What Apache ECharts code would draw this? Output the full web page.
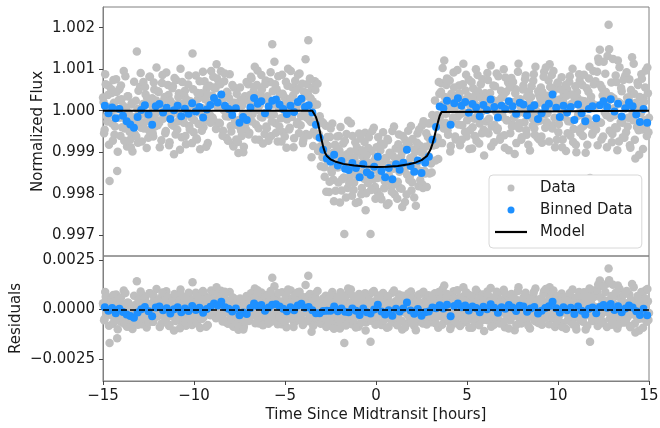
<!DOCTYPE html>
<html>
<head>
<meta charset="utf-8">
<script src="https://cdn.jsdelivr.net/npm/echarts@6/dist/echarts.min.js"></script>
<style>
  html, body { margin: 0; background: #fff; }
  #chart { width: 660px; height: 428px; }
</style>
</head>
<body>
<div id="chart"></div>
<script>
// unbinned light curve: time [hours], flux and residual as ppm offsets
// (two interleaved cadences: first block on the .00/.06 grid, second on .03/.09)
const dataTime = [
  -15, -14.94, -14.88, -14.82, -14.76, -14.7, -14.64, -14.58, -14.52, -14.46, -14.4, -14.34, -14.28, -14.22, -14.16, -14.1, -14.04, -13.98, -13.92, -13.86, -13.8, -13.74, -13.68, -13.62, -13.56,
  -13.5, -13.44, -13.38, -13.32, -13.26, -13.2, -13.14, -13.08, -13.02, -12.96, -12.9, -12.84, -12.78, -12.72, -12.66, -12.6, -12.54, -12.48, -12.42, -12.36, -12.3, -12.24, -12.18, -12.12, -12.06,
  -12, -11.94, -11.88, -11.82, -11.76, -11.7, -11.64, -11.58, -11.52, -11.46, -11.4, -11.34, -11.28, -11.22, -11.16, -11.1, -11.04, -10.98, -10.92, -10.86, -10.8, -10.74, -10.68, -10.62, -10.56,
  -10.5, -10.44, -10.38, -10.32, -10.26, -10.2, -10.14, -10.08, -10.02, -9.96, -9.9, -9.84, -9.78, -9.72, -9.66, -9.6, -9.54, -9.48, -9.42, -9.36, -9.3, -9.24, -9.18, -9.12, -9.06,
  -9, -8.94, -8.88, -8.82, -8.76, -8.7, -8.64, -8.58, -8.52, -8.46, -8.4, -8.34, -8.28, -8.22, -8.16, -8.1, -8.04, -7.98, -7.92, -7.86, -7.8, -7.74, -7.68, -7.62, -7.56,
  -7.5, -7.44, -7.38, -7.32, -7.26, -7.2, -7.14, -7.08, -7.02, -6.96, -6.9, -6.84, -6.78, -6.72, -6.66, -6.6, -6.54, -6.48, -6.42, -6.36, -6.3, -6.24, -6.18, -6.12, -6.06,
  -6, -5.94, -5.88, -5.82, -5.76, -5.7, -5.64, -5.58, -5.52, -5.46, -5.4, -5.34, -5.28, -5.22, -5.16, -5.1, -5.04, -4.98, -4.92, -4.86, -4.8, -4.74, -4.68, -4.62, -4.56,
  -4.5, -4.44, -4.38, -4.32, -4.26, -4.2, -4.14, -4.08, -4.02, -3.96, -3.9, -3.84, -3.78, -3.72, -3.66, -3.6, -3.54, -3.48, -3.42, -3.36, -3.3, -3.24, -3.18, -3.12, -3.06,
  -3, -2.94, -2.88, -2.82, -2.76, -2.7, -2.64, -2.58, -2.52, -2.46, -2.4, -2.34, -2.28, -2.22, -2.16, -2.1, -2.04, -1.98, -1.92, -1.86, -1.8, -1.74, -1.68, -1.62, -1.56,
  -1.5, -1.44, -1.38, -1.32, -1.26, -1.2, -1.14, -1.08, -1.02, -0.96, -0.9, -0.84, -0.78, -0.72, -0.66, -0.6, -0.54, -0.48, -0.42, -0.36, -0.3, -0.24, -0.18, -0.12, -0.06,
  0, 0.06, 0.12, 0.18, 0.24, 0.3, 0.36, 0.42, 0.48, 0.54, 0.6, 0.66, 0.72, 0.78, 0.84, 0.9, 0.96, 1.02, 1.08, 1.14, 1.2, 1.26, 1.32, 1.38, 1.44,
  1.5, 1.56, 1.62, 1.68, 1.74, 1.8, 1.86, 1.92, 1.98, 2.04, 2.1, 2.16, 2.22, 2.28, 2.34, 2.4, 2.46, 2.52, 2.58, 2.64, 2.7, 2.76, 2.82, 2.88, 2.94,
  3, 3.06, 3.12, 3.18, 3.24, 3.3, 3.36, 3.42, 3.48, 3.54, 3.6, 3.66, 3.72, 3.78, 3.84, 3.9, 3.96, 4.02, 4.08, 4.14, 4.2, 4.26, 4.32, 4.38, 4.44,
  4.5, 4.56, 4.62, 4.68, 4.74, 4.8, 4.86, 4.92, 4.98, 5.04, 5.1, 5.16, 5.22, 5.28, 5.34, 5.4, 5.46, 5.52, 5.58, 5.64, 5.7, 5.76, 5.82, 5.88, 5.94,
  6, 6.06, 6.12, 6.18, 6.24, 6.3, 6.36, 6.42, 6.48, 6.54, 6.6, 6.66, 6.72, 6.78, 6.84, 6.9, 6.96, 7.02, 7.08, 7.14, 7.2, 7.26, 7.32, 7.38, 7.44,
  7.5, 7.56, 7.62, 7.68, 7.74, 7.8, 7.86, 7.92, 7.98, 8.04, 8.1, 8.16, 8.22, 8.28, 8.34, 8.4, 8.46, 8.52, 8.58, 8.64, 8.7, 8.76, 8.82, 8.88, 8.94,
  9, 9.06, 9.12, 9.18, 9.24, 9.3, 9.36, 9.42, 9.48, 9.54, 9.6, 9.66, 9.72, 9.78, 9.84, 9.9, 9.96, 10.02, 10.08, 10.14, 10.2, 10.26, 10.32, 10.38, 10.44,
  10.5, 10.56, 10.62, 10.68, 10.74, 10.8, 10.86, 10.92, 10.98, 11.04, 11.1, 11.16, 11.22, 11.28, 11.34, 11.4, 11.46, 11.52, 11.58, 11.64, 11.7, 11.76, 11.82, 11.88, 11.94,
  12, 12.06, 12.12, 12.18, 12.24, 12.3, 12.36, 12.42, 12.48, 12.54, 12.6, 12.66, 12.72, 12.78, 12.84, 12.9, 12.96, 13.02, 13.08, 13.14, 13.2, 13.26, 13.32, 13.38, 13.44,
  13.5, 13.56, 13.62, 13.68, 13.74, 13.8, 13.86, 13.92, 13.98, 14.04, 14.1, 14.16, 14.22, 14.28, 14.34, 14.4, 14.46, 14.52, 14.58, 14.64, 14.7, 14.76, 14.82, 14.88, 14.94,
  15,
  -14.97, -14.91, -14.85, -14.79, -14.73, -14.67, -14.61, -14.55, -14.49, -14.43, -14.37, -14.31, -14.25, -14.19, -14.13, -14.07, -14.01, -13.95, -13.89, -13.83, -13.77, -13.71, -13.65, -13.59, -13.53,
  -13.47, -13.41, -13.35, -13.29, -13.23, -13.17, -13.11, -13.05, -12.99, -12.93, -12.87, -12.81, -12.75, -12.69, -12.63, -12.57, -12.51, -12.45, -12.39, -12.33, -12.27, -12.21, -12.15, -12.09, -12.03,
  -11.97, -11.91, -11.85, -11.79, -11.73, -11.67, -11.61, -11.55, -11.49, -11.43, -11.37, -11.31, -11.25, -11.19, -11.13, -11.07, -11.01, -10.95, -10.89, -10.83, -10.77, -10.71, -10.65, -10.59, -10.53,
  -10.47, -10.41, -10.35, -10.29, -10.23, -10.17, -10.11, -10.05, -9.99, -9.93, -9.87, -9.81, -9.75, -9.69, -9.63, -9.57, -9.51, -9.45, -9.39, -9.33, -9.27, -9.21, -9.15, -9.09, -9.03,
  -8.97, -8.91, -8.85, -8.79, -8.73, -8.67, -8.61, -8.55, -8.49, -8.43, -8.37, -8.31, -8.25, -8.19, -8.13, -8.07, -8.01, -7.95, -7.89, -7.83, -7.77, -7.71, -7.65, -7.59, -7.53,
  -7.47, -7.41, -7.35, -7.29, -7.23, -7.17, -7.11, -7.05, -6.99, -6.93, -6.87, -6.81, -6.75, -6.69, -6.63, -6.57, -6.51, -6.45, -6.39, -6.33, -6.27, -6.21, -6.15, -6.09, -6.03,
  -5.97, -5.91, -5.85, -5.79, -5.73, -5.67, -5.61, -5.55, -5.49, -5.43, -5.37, -5.31, -5.25, -5.19, -5.13, -5.07, -5.01, -4.95, -4.89, -4.83, -4.77, -4.71, -4.65, -4.59, -4.53,
  -4.47, -4.41, -4.35, -4.29, -4.23, -4.17, -4.11, -4.05, -3.99, -3.93, -3.87, -3.81, -3.75, -3.69, -3.63, -3.57, -3.51, -3.45, -3.39, -3.33, -3.27, -3.21, -3.15, -3.09, -3.03,
  -2.97, -2.91, -2.85, -2.79, -2.73, -2.67, -2.61, -2.55, -2.49, -2.43, -2.37, -2.31, -2.25, -2.19, -2.13, -2.07, -2.01, -1.95, -1.89, -1.83, -1.77, -1.71, -1.65, -1.59, -1.53,
  -1.47, -1.41, -1.35, -1.29, -1.23, -1.17, -1.11, -1.05, -0.99, -0.93, -0.87, -0.81, -0.75, -0.69, -0.63, -0.57, -0.51, -0.45, -0.39, -0.33, -0.27, -0.21, -0.15, -0.09, -0.03,
  0.03, 0.09, 0.15, 0.21, 0.27, 0.33, 0.39, 0.45, 0.51, 0.57, 0.63, 0.69, 0.75, 0.81, 0.87, 0.93, 0.99, 1.05, 1.11, 1.17, 1.23, 1.29, 1.35, 1.41, 1.47,
  1.53, 1.59, 1.65, 1.71, 1.77, 1.83, 1.89, 1.95, 2.01, 2.07, 2.13, 2.19, 2.25, 2.31, 2.37, 2.43, 2.49, 2.55, 2.61, 2.67, 2.73, 2.79, 2.85, 2.91, 2.97,
  3.03, 3.09, 3.15, 3.21, 3.27, 3.33, 3.39, 3.45, 3.51, 3.57, 3.63, 3.69, 3.75, 3.81, 3.87, 3.93, 3.99, 4.05, 4.11, 4.17, 4.23, 4.29, 4.35, 4.41, 4.47,
  4.53, 4.59, 4.65, 4.71, 4.77, 4.83, 4.89, 4.95, 5.01, 5.07, 5.13, 5.19, 5.25, 5.31, 5.37, 5.43, 5.49, 5.55, 5.61, 5.67, 5.73, 5.79, 5.85, 5.91, 5.97,
  6.03, 6.09, 6.15, 6.21, 6.27, 6.33, 6.39, 6.45, 6.51, 6.57, 6.63, 6.69, 6.75, 6.81, 6.87, 6.93, 6.99, 7.05, 7.11, 7.17, 7.23, 7.29, 7.35, 7.41, 7.47,
  7.53, 7.59, 7.65, 7.71, 7.77, 7.83, 7.89, 7.95, 8.01, 8.07, 8.13, 8.19, 8.25, 8.31, 8.37, 8.43, 8.49, 8.55, 8.61, 8.67, 8.73, 8.79, 8.85, 8.91, 8.97,
  9.03, 9.09, 9.15, 9.21, 9.27, 9.33, 9.39, 9.45, 9.51, 9.57, 9.63, 9.69, 9.75, 9.81, 9.87, 9.93, 9.99, 10.05, 10.11, 10.17, 10.23, 10.29, 10.35, 10.41, 10.47,
  10.53, 10.59, 10.65, 10.71, 10.77, 10.83, 10.89, 10.95, 11.01, 11.07, 11.13, 11.19, 11.25, 11.31, 11.37, 11.43, 11.49, 11.55, 11.61, 11.67, 11.73, 11.79, 11.85, 11.91, 11.97,
  12.03, 12.09, 12.15, 12.21, 12.27, 12.33, 12.39, 12.45, 12.51, 12.57, 12.63, 12.69, 12.75, 12.81, 12.87, 12.93, 12.99, 13.05, 13.11, 13.17, 13.23, 13.29, 13.35, 13.41, 13.47,
  13.53, 13.59, 13.65, 13.71, 13.77, 13.83, 13.89, 13.95, 14.01, 14.07, 14.13, 14.19, 14.25, 14.31, 14.37, 14.43, 14.49, 14.55, 14.61, 14.67, 14.73, 14.79, 14.85, 14.91, 14.97
]

const dataFluxPpm = [
  320, -540, 880, 110, -260, 610, -1690, -90, 430, -720, 190, -380, 760, -1450, 40, 520, -610, 280, -150, 960, -430, 70, -860, 350, -240,
  -690, 150, -980, -320, -560, 240, 1430, -770, -130, 580, -410, 20, 690, -280, 390, -900, 160, -470, 820, -60, 300, -620, 510, -200, 1040,
  -350, 450, -880, 130, 670, -190, 260, -540, 920, -20, 380, -760, 210, -330, 590, -1050, 80, 740, -460, 330, -120, 1010, -640, 170, -290,
  480, -810, 40, 630, -370, 230, -170, 1380, -520, 110, 850, -690, 290, -40, -930, 420, 60, -400, 710, -230, 540, -780, 180, -110, 960,
  370, 820, -260, 540, 1120, 90, 660, -310, 950, 240, -480, 710, 30, -650, 420, -140, 880, -370, 150, -820, 560, -240, -690, 100, -1020,
  -380, 270, -610, -90, -870, 350, -450, -200, 640, -530, 190, 780, -80, 470, 1060, -330, 620, 20, -700, 380, 860, -160, 290, -560, 730,
  -420, 260, -90, 690, -610, 1600, 150, 1180, -300, 520, -740, 80, 410, -180, 870, -520, 330, -30, -890, 600, 200, -410, 960, -150, 370,
  -660, 720, 50, -280, 540, 900, -350, 170, -780, 460, 10, -560, 640, 1700, -220, 310, -1120, 230, -500, 710, -240, 150, -970, -310, -860,
  -260, -1120, -750, -1590, -360, -1180, -850, -1960, -630, -1420, -310, -1660, -1150, -1930, -890, -1370, -610, -2210, -1060, -1650, -790, -2970, -1310, -560, -1860,
  -1120, -1590, -300, -2050, -1230, -1730, -760, -1500, -1010, -2200, -1290, -670, -1860, -1110, -1640, -530, -1990, -1240, -900, -1580, -2970, -970, -1420, -410, -1830,
  -1100, -1940, -640, -1490, -960, -2130, -1290, -820, -1700, -1170, -2270, -710, -1560, -1040, -1820, -490, -1400, -2010, -910, -1220, -1710, -570, -1860, -1090, -2320,
  -970, -1430, -710, -2020, -1270, -810, -1580, -370, -1720, -1110, -2090, -980, -1290, -550, -1820, -840, -1450, -360, -1860, -1050, -1510, -540, -1230, -310, -1510,
  -750, -1490, -300, -750, 250, -820, -110, -1160, 410, -280, 660, 1030, -430, 330, -70, 780, -580, 140, -980, 410, -260, 920, 50, -690, 360,
  -140, 610, -830, 270, -350, 1130, -40, 490, -620, 200, 750, -470, 30, -910, 540, -190, 380, -720, 860, 110, -310, 640, -540, 250, -1080,
  420, -260, 910, -550, 130, 1090, -380, 260, -760, 590, -20, -470, 830, 170, -640, 320, -150, 1000, -890, 450, -230, 680, 60, -540, 790,
  -330, 210, -1040, 520, -90, 940, -420, 280, -700, 150, 610, -280, 850, -580, 40, 470, -960, 330, -180, 720, -430, 1060, -10, -650, 390,
  -240, 560, -770, 180, 940, -410, 300, -60, 730, 1120, 220, 860, -350, 490, -880, 100, 640, -520, 270, -160, 810, -690, 380, -30, -970,
  520, -250, 700, -600, 160, 1010, -440, 290, -820, 450, -120, 880, -530, 70, 620, -370, 230, -1010, 540, -190, 780, -1620, 340, -570, 960,
  -360, 710, 120, -830, 1180, 1470, -290, 540, -620, 270, 890, -110, 1320, 2070, -480, 350, -760, 1250, 60, -400, 690, -950, 210, 1050, -270,
  470, -640, 140, 830, -520, 320, -170, 760, -890, 410, -60, 1130, -700, 190, -390, 620, -1060, 80, 880, -450, 300, -230, 970, -610, 420,
  -170,
  210, -460, 640, -130, 380, -820, 90, 520, -310, 740, -580, 30, 450, -990, 260, -170, 610, -400, 120, -720, 830, -240, 350, -60, -510,
  -880, 190, -330, 700, -150, -620, 40, 480, -270, 910, -740, 160, -430, 570, -90, 300, -650, 820, -200, 130, -540, 680, -380, 250, -30,
  470, -290, 60, -710, 860, -140, 330, -490, 10, 620, -830, 240, -100, 540, -360, 790, -570, 150, -260, 420, -940, 80, 690, -180, 360,
  -610, 270, -40, 850, -450, 190, -780, 520, -220, 100, -660, 430, -320, 710, 50, -480, 940, -150, 280, -870, 390, -60, 600, -290, 180,
  -170, 560, 230, -440, 780, 110, -290, 640, 380, -600, 20, 900, -130, 460, -720, 300, 70, -500, 620, -860, 190, -340, 410, -750, -220,
  560, -480, 130, -1000, 250, -310, 690, -100, -570, 380, 820, -260, 40, 580, -690, 210, 970, -420, 130, -150, 510, -790, 300, 640, -380,
  350, -720, 180, 930, -260, 470, -90, 640, -530, 220, 830, -380, 60, -740, 410, 150, -620, 700, -210, 1010, -450, 290, -60, 560, -880,
  120, 480, -320, 870, -540, 260, -130, 650, -700, 340, 1240, -160, 420, -590, 780, -270, 550, -850, 140, 500, -600, 650, -560, -130, -1340,
  -890, -290, -1360, -790, -1950, -630, -1040, -1710, -430, -1490, -1020, -2180, -820, -1290, -620, -1730, -960, -390, -1920, -1160, -1610, -730, -2090, -1050, -240,
  -1740, -980, -1430, -610, -1910, -1140, -2220, -880, -1590, -550, -1300, -2010, -950, -1480, -750, -2400, -1070, -1740, -640, -1370, -1910, -490, -1650, -1200, -2120,
  -880, -1620, -1230, -2040, -790, -1390, -520, -1870, -1140, -1700, -680, -2230, -1010, -1300, -1950, -1090, -380, -1770, -1160, -2120, -810, -1470, -940, -1880, -610,
  -1250, -2200, -870, -1540, -480, -1670, -1140, -1920, -680, -1350, -930, -2290, -770, -1430, -450, -1670, -1000, -1780, -250, -1450, -870, -1840, -630, -1100, -300,
  -1270, -100, -840, -180, -1200, -130, -650, 690, -150, 460, -780, 150, 1210, -290, 620, -470, 80, 730, -850, 310, -160, 560, -620, 190, 980,
  -330, 420, -80, -700, 640, 260, -510, 870, -230, 350, -920, 110, 690, -400, 230, -610, 1000, -140, 470, -790, 320, -30, 760, -460, 190,
  -510, 280, 740, -190, 430, -860, 60, 610, -340, 170, 900, -420, 250, -700, 480, -90, 330, -590, 800, -230, 120, -950, 560, 30, -380,
  690, -160, 420, -780, 260, 1130, -300, 90, -640, 510, -50, 760, -470, 350, -820, 200, -120, 590, -360, 880, -580, 140, -260, 470, -690,
  300, -620, 450, 820, -90, 1040, -280, 360, -740, 570, 120, -430, 960, -170, 250, -700, 680, -320, 40, 510, -880, 210, -150, 620, 360,
  -540, 90, 830, -260, 390, -750, 170, 590, -1000, 310, -60, 720, -430, 240, -610, 870, -200, 130, -820, 460, 1060, -340, 200, -530, 640,
  130, -450, 940, 1260, -280, 620, -690, 370, 1180, -40, 450, -880, 230, 1480, -170, 680, -560, 300, -110, 850, -420, 1210, -740, 180, 550,
  -290, 740, -650, 60, 930, -380, 260, -830, 500, 1290, -230, 410, -1150, 120, 680, -470, 330, -60, 770, -920, 210, 560, -340, 1040, -520
]

const dataResidualPpm = [
  320, -540, 880, 110, -260, 610, -1690, -90, 430, -720, 190, -380, 760, -1450, 40, 520, -610, 280, -150, 960, -430, 70, -860, 350, -240,
  -690, 150, -980, -320, -560, 240, 1430, -770, -130, 580, -410, 20, 690, -280, 390, -900, 160, -470, 820, -60, 300, -620, 510, -200, 1040,
  -350, 450, -880, 130, 670, -190, 260, -540, 920, -20, 380, -760, 210, -330, 590, -1050, 80, 740, -460, 330, -120, 1010, -640, 170, -290,
  480, -810, 40, 630, -370, 230, -170, 1380, -520, 110, 850, -690, 290, -40, -930, 420, 60, -400, 710, -230, 540, -780, 180, -110, 960,
  370, 820, -260, 540, 1120, 90, 660, -310, 950, 240, -480, 710, 30, -650, 420, -140, 880, -370, 150, -820, 560, -240, -690, 100, -1020,
  -380, 270, -610, -90, -870, 350, -450, -200, 640, -530, 190, 780, -80, 470, 1060, -330, 620, 20, -700, 380, 860, -160, 290, -560, 730,
  -420, 260, -90, 690, -610, 1600, 150, 1180, -300, 520, -740, 80, 410, -180, 870, -520, 330, -30, -890, 600, 200, -410, 960, -150, 370,
  -660, 720, 50, -280, 540, 900, -350, 170, -780, 460, 10, -560, 640, 1700, -220, 310, -1120, 240, -470, 790, -90, 380, -640, 120, -310,
  420, -330, 150, -610, 700, -90, 260, -820, 530, -240, 880, -460, 60, -700, 350, -130, 640, -950, 210, -380, 490, -1690, -20, 730, -560,
  180, -290, 1010, -740, 90, -410, 560, -180, 320, -870, 40, 670, -520, 230, -300, 820, -640, 110, 450, -230, -1620, 380, -70, 940, -480,
  260, -590, 710, -140, 390, -780, 60, 530, -350, 180, -920, 640, -210, 300, -480, 850, -60, -670, 420, 110, -380, 760, -540, 230, -1010,
  340, -120, 590, -720, 20, 480, -300, 910, -450, 150, -830, 270, -50, 680, -600, 370, -250, 820, -700, 90, -390, 560, -160, 720, -530,
  180, -640, 470, -80, 820, -360, 240, -910, 560, -200, 690, 1040, -430, 330, -70, 780, -580, 140, -980, 410, -260, 920, 50, -690, 360,
  -140, 610, -830, 270, -350, 1130, -40, 490, -620, 200, 750, -470, 30, -910, 540, -190, 380, -720, 860, 110, -310, 640, -540, 250, -1080,
  420, -260, 910, -550, 130, 1090, -380, 260, -760, 590, -20, -470, 830, 170, -640, 320, -150, 1000, -890, 450, -230, 680, 60, -540, 790,
  -330, 210, -1040, 520, -90, 940, -420, 280, -700, 150, 610, -280, 850, -580, 40, 470, -960, 330, -180, 720, -430, 1060, -10, -650, 390,
  -240, 560, -770, 180, 940, -410, 300, -60, 730, 1120, 220, 860, -350, 490, -880, 100, 640, -520, 270, -160, 810, -690, 380, -30, -970,
  520, -250, 700, -600, 160, 1010, -440, 290, -820, 450, -120, 880, -530, 70, 620, -370, 230, -1010, 540, -190, 780, -1620, 340, -570, 960,
  -360, 710, 120, -830, 1180, 1470, -290, 540, -620, 270, 890, -110, 1320, 2070, -480, 350, -760, 1250, 60, -400, 690, -950, 210, 1050, -270,
  470, -640, 140, 830, -520, 320, -170, 760, -890, 410, -60, 1130, -700, 190, -390, 620, -1060, 80, 880, -450, 300, -230, 970, -610, 420,
  -170,
  210, -460, 640, -130, 380, -820, 90, 520, -310, 740, -580, 30, 450, -990, 260, -170, 610, -400, 120, -720, 830, -240, 350, -60, -510,
  -880, 190, -330, 700, -150, -620, 40, 480, -270, 910, -740, 160, -430, 570, -90, 300, -650, 820, -200, 130, -540, 680, -380, 250, -30,
  470, -290, 60, -710, 860, -140, 330, -490, 10, 620, -830, 240, -100, 540, -360, 790, -570, 150, -260, 420, -940, 80, 690, -180, 360,
  -610, 270, -40, 850, -450, 190, -780, 520, -220, 100, -660, 430, -320, 710, 50, -480, 940, -150, 280, -870, 390, -60, 600, -290, 180,
  -170, 560, 230, -440, 780, 110, -290, 640, 380, -600, 20, 900, -130, 460, -720, 300, 70, -500, 620, -860, 190, -340, 410, -750, -220,
  560, -480, 130, -1000, 250, -310, 690, -100, -570, 380, 820, -260, 40, 580, -690, 210, 970, -420, 130, -150, 510, -790, 300, 640, -380,
  350, -720, 180, 930, -260, 470, -90, 640, -530, 220, 830, -380, 60, -740, 410, 150, -620, 700, -210, 1010, -450, 290, -60, 560, -880,
  120, 480, -320, 870, -540, 260, -130, 650, -700, 340, 1240, -160, 420, -590, 780, -270, 550, -830, 190, 620, -410, 930, -180, 360, -720,
  -150, 560, -420, 230, -880, 470, 90, -560, 740, -310, 180, -970, 400, -60, 620, -480, 290, 870, -650, 120, -330, 560, -800, 240, 1060,
  -440, 330, -120, 700, -590, 180, -900, 450, -260, 780, 30, -670, 390, -140, 590, -1050, 280, -390, 710, -20, -560, 860, -300, 150, -760,
  480, -270, 120, -690, 560, -40, 830, -520, 210, -350, 670, -880, 340, 40, -610, 250, 960, -430, 170, -790, 520, -150, 380, -560, 700,
  60, -900, 430, -240, 810, -380, 140, -650, 590, -90, 320, -1040, 470, -200, 760, -470, 190, -610, 900, -320, 240, -750, 420, -100, 650,
  -380, 710, -120, 440, -690, 280, -350, 890, -40, 520, -760, 150, 1210, -290, 620, -470, 80, 730, -850, 310, -160, 560, -620, 190, 980,
  -330, 420, -80, -700, 640, 260, -510, 870, -230, 350, -920, 110, 690, -400, 230, -610, 1000, -140, 470, -790, 320, -30, 760, -460, 190,
  -510, 280, 740, -190, 430, -860, 60, 610, -340, 170, 900, -420, 250, -700, 480, -90, 330, -590, 800, -230, 120, -950, 560, 30, -380,
  690, -160, 420, -780, 260, 1130, -300, 90, -640, 510, -50, 760, -470, 350, -820, 200, -120, 590, -360, 880, -580, 140, -260, 470, -690,
  300, -620, 450, 820, -90, 1040, -280, 360, -740, 570, 120, -430, 960, -170, 250, -700, 680, -320, 40, 510, -880, 210, -150, 620, 360,
  -540, 90, 830, -260, 390, -750, 170, 590, -1000, 310, -60, 720, -430, 240, -610, 870, -200, 130, -820, 460, 1060, -340, 200, -530, 640,
  130, -450, 940, 1260, -280, 620, -690, 370, 1180, -40, 450, -880, 230, 1480, -170, 680, -560, 300, -110, 850, -420, 1210, -740, 180, 550,
  -290, 740, -650, 60, 930, -380, 260, -830, 500, 1290, -230, 410, -1150, 120, 680, -470, 330, -60, 770, -920, 210, 560, -340, 1040, -520
]

// binned points
const binTime = [
  -14.9, -14.7, -14.5, -14.3, -14.1, -13.9, -13.7, -13.5, -13.3, -13.1, -12.9, -12.7, -12.5, -12.3, -12.1, -11.9, -11.7, -11.5, -11.3, -11.1, -10.9, -10.7, -10.5, -10.3, -10.1,
  -9.9, -9.7, -9.5, -9.3, -9.1, -8.9, -8.7, -8.5, -8.3, -8.1, -7.9, -7.7, -7.5, -7.3, -7.1, -6.9, -6.7, -6.5, -6.3, -6.1, -5.9, -5.7, -5.5, -5.3, -5.1,
  -4.9, -4.7, -4.5, -4.3, -4.1, -3.9, -3.7, -3.5, -3.3, -3.1, -2.9, -2.7, -2.5, -2.3, -2.1, -1.9, -1.7, -1.5, -1.3, -1.1, -0.9, -0.7, -0.5, -0.3, -0.1,
  0.1, 0.3, 0.5, 0.7, 0.9, 1.1, 1.3, 1.5, 1.7, 1.9, 2.1, 2.3, 2.5, 2.7, 2.9, 3.1, 3.3, 3.5, 3.7, 3.9, 4.1, 4.3, 4.5, 4.7, 4.9,
  5.1, 5.3, 5.5, 5.7, 5.9, 6.1, 6.3, 6.5, 6.7, 6.9, 7.1, 7.3, 7.5, 7.7, 7.9, 8.1, 8.3, 8.5, 8.7, 8.9, 9.1, 9.3, 9.5, 9.7, 9.9,
  10.1, 10.3, 10.5, 10.7, 10.9, 11.1, 11.3, 11.5, 11.7, 11.9, 12.1, 12.3, 12.5, 12.7, 12.9, 13.1, 13.3, 13.5, 13.7, 13.9, 14.1, 14.3, 14.5, 14.7, 14.9
]

const binFluxPpm = [
  120, -60, 80, -180, 40, -120, -250, -330, -410, -150, 20, 130, -90, -340, 110, 160, -40, 70, -200, 10, 120, -130, 50, -70, 180,
  -20, 90, -160, 30, 140, 310, 200, 390, 120, 40, -100, 60, -290, -150, -220, 80, 310, 170, 230, -60, 100, 240, 270, 150, 40,
  -80, 120, -30, 210, 290, 90, 130, -40, -340, -650, -940, -1150, -1230, -1060, -1320, -1210, -1400, -1430, -1260, -1380, -1600, -1290, -1480, -1550, -1350,
  -1110, -1450, -1600, -1380, -1650, -1290, -1420, -1250, -940, -1330, -1470, -1200, -1500, -1250, -1110, -700, -390, 100, 60, 240, -340, 180, 300, 120, 210,
  -50, 160, 80, -130, 140, 20, 270, 90, -160, 120, 40, 230, 110, -70, 190, 150, -110, 60, 130, -200, -60, 80, 170, 390, 70,
  -150, 120, -40, 90, -220, 150, -60, -250, 40, 110, -180, 130, 230, 90, 280, -20, 170, -140, 60, 200, 110, -90, -270, 40, -290
]

const binResidualPpm = [
  120, -60, 80, -180, 40, -120, -250, -330, -410, -150, 20, 130, -90, -340, 110, 160, -40, 70, -200, 10, 120, -130, 50, -70, 180,
  -20, 90, -160, 30, 140, 310, 200, 390, 120, 40, -100, 60, -290, -150, -220, 80, 310, 170, 230, -60, 100, 240, 270, 150, 40,
  -80, 120, -30, 210, 290, 90, 130, -40, -190, -180, -70, -60, -60, 150, -80, 60, -110, -130, 50, -60, -270, 50, -130, -200, 0,
  240, -100, -250, -30, -310, 40, -100, 60, 360, -50, -210, 30, -310, -130, -100, 100, 70, 220, 60, 240, -340, 180, 300, 120, 210,
  -50, 160, 80, -130, 140, 20, 270, 90, -160, 120, 40, 230, 110, -70, 190, 150, -110, 60, 130, -200, -60, 80, 170, 390, 70,
  -150, 120, -40, 90, -220, 150, -60, -250, 40, 110, -180, 130, 230, 90, 280, -20, 170, -140, 60, 200, 110, -90, -270, 40, -290
]

// transit model
const modelTime = [-15, -3.5, -3.4, -3.3, -3.2, -3.1, -3, -2.9, -2.8, -2.7, -2.5, -2.2, -1.8, -1.2, -0.6, 0, 0.6, 1.2, 1.8, 2.2, 2.5, 2.8, 3, 3.1, 3.2, 3.3, 3.4, 3.5, 3.6, 3.7, 15]
const modelFluxPpm = [0, 0, -40, -150, -290, -470, -680, -870, -1010, -1090, -1170, -1230, -1280, -1320, -1345, -1355, -1350, -1330, -1290, -1245, -1190, -1090, -930, -800, -640, -460, -280, -120, -30, 0, 0]

const fluxTicks = [0.997, 0.998, 0.999, 1.000, 1.001, 1.002]
const residualTicks = [-0.0025, 0, 0.0025]

const font = 'DejaVu Sans'
const textColor = '#1a1a1a'
const frameColor = '#808080'
const toMinus = s => s.replace('-', '\u2212')

const fluxPts = dataTime.map((t, i) => [t, 1 + dataFluxPpm[i] * 1e-6])
const residPts = dataTime.map((t, i) => [t, dataResidualPpm[i] * 1e-6])
const binFluxPts = binTime.map((t, i) => [t, 1 + binFluxPpm[i] * 1e-6])
const binResidPts = binTime.map((t, i) => [t, binResidualPpm[i] * 1e-6])
const modelPts = modelTime.map((t, i) => [t, 1 + modelFluxPpm[i] * 1e-6])

const chart = echarts.init(document.getElementById('chart'))

const frameLine = { show: true, onZero: false, lineStyle: { color: frameColor, width: 1 } }
const tickStyle = { show: true, length: 4, lineStyle: { color: '#444' } }
const yAxisBase = {
  type: 'value',
  axisLine: frameLine,
  splitLine: { show: false },
  nameLocation: 'middle',
  nameMoveOverlap: false,
  nameTextStyle: { fontSize: 15, fontFamily: font, color: textColor }
}

const option = {
  animation: false,
  backgroundColor: '#fff',
  grid: [
    { left: 103, right: 11, top: 7, height: 249, show: true, borderColor: frameColor, borderWidth: 1, outerBoundsMode: 'none' },
    { left: 103, right: 11, top: 256, height: 125, show: true, borderColor: frameColor, borderWidth: 1, outerBoundsMode: 'none' }
  ],
  xAxis: [
    {
      gridIndex: 0, type: 'value', min: -15, max: 15, interval: 5,
      axisLine: { show: false, onZero: false }, axisTick: { show: false }, axisLabel: { show: false }, splitLine: { show: false }
    },
    {
      gridIndex: 1, type: 'value', min: -15, max: 15, interval: 5,
      axisLine: frameLine,
      splitLine: { show: false },
      axisTick: tickStyle,
      axisLabel: { fontSize: 15, fontFamily: font, color: textColor, margin: 8, formatter: v => toMinus(String(v)) },
      name: 'Time Since Midtransit [hours]',
      nameLocation: 'middle',
      nameMoveOverlap: false,
      nameGap: 27,
      nameTextStyle: { fontSize: 15, fontFamily: font, color: textColor }
    }
  ],
  yAxis: [
    Object.assign({}, yAxisBase, {
      gridIndex: 0, min: 0.9965, max: 1.0025,
      axisTick: Object.assign({}, tickStyle, { customValues: fluxTicks }),
      axisLabel: { customValues: fluxTicks, fontSize: 15, fontFamily: font, color: textColor, margin: 8, formatter: v => v.toFixed(3) },
      name: 'Normalized Flux',
      nameGap: 57
    }),
    Object.assign({}, yAxisBase, {
      gridIndex: 1, min: -0.0036, max: 0.0027,
      axisTick: Object.assign({}, tickStyle, { customValues: residualTicks }),
      axisLabel: { customValues: residualTicks, fontSize: 15, fontFamily: font, color: textColor, margin: 8, formatter: v => toMinus(v.toFixed(4)) },
      name: 'Residuals',
      nameGap: 79
    })
  ],
  legend: {
    data: [
      { name: 'Data', icon: 'circle' },
      { name: 'Binned Data', icon: 'circle' },
      { name: 'Model', icon: 'path://M0,0H32V2.2H0Z' }
    ],
    orient: 'vertical',
    left: 489,
    top: 175,
    itemWidth: 32,
    itemHeight: 7,
    itemGap: 6,
    padding: [5, 9, 8, 6],
    backgroundColor: '#fff',
    borderColor: '#d8d8d8',
    borderWidth: 1,
    borderRadius: 4,
    textStyle: { fontSize: 15, fontFamily: font, color: textColor, lineHeight: 16, padding: [0, 0, 0, 8] }
  },
  series: [
    {
      name: 'Data', type: 'scatter', xAxisIndex: 0, yAxisIndex: 0,
      data: fluxPts, symbolSize: 8.5, itemStyle: { color: '#bfbfbf', opacity: 1 }, z: 1
    },
    {
      name: 'Binned Data', type: 'scatter', xAxisIndex: 0, yAxisIndex: 0,
      data: binFluxPts, symbolSize: 8, itemStyle: { color: '#1e90ff', opacity: 1 }, z: 2
    },
    {
      name: 'Model', type: 'line', xAxisIndex: 0, yAxisIndex: 0,
      data: modelPts, symbol: 'none', lineStyle: { color: '#000', width: 2 }, itemStyle: { color: '#000' }, z: 3
    },
    {
      type: 'scatter', xAxisIndex: 1, yAxisIndex: 1,
      data: residPts, symbolSize: 8.5, itemStyle: { color: '#bfbfbf', opacity: 1 }, z: 1
    },
    {
      type: 'scatter', xAxisIndex: 1, yAxisIndex: 1,
      data: binResidPts, symbolSize: 8, itemStyle: { color: '#1e90ff', opacity: 1 }, z: 2,
      markLine: {
        silent: true,
        symbol: 'none',
        label: { show: false },
        lineStyle: { color: '#000', width: 1.5, type: [6, 3] },
        data: [{ yAxis: 0 }]
      }
    }
  ]
}

chart.setOption(option)
</script>
</body>
</html>
